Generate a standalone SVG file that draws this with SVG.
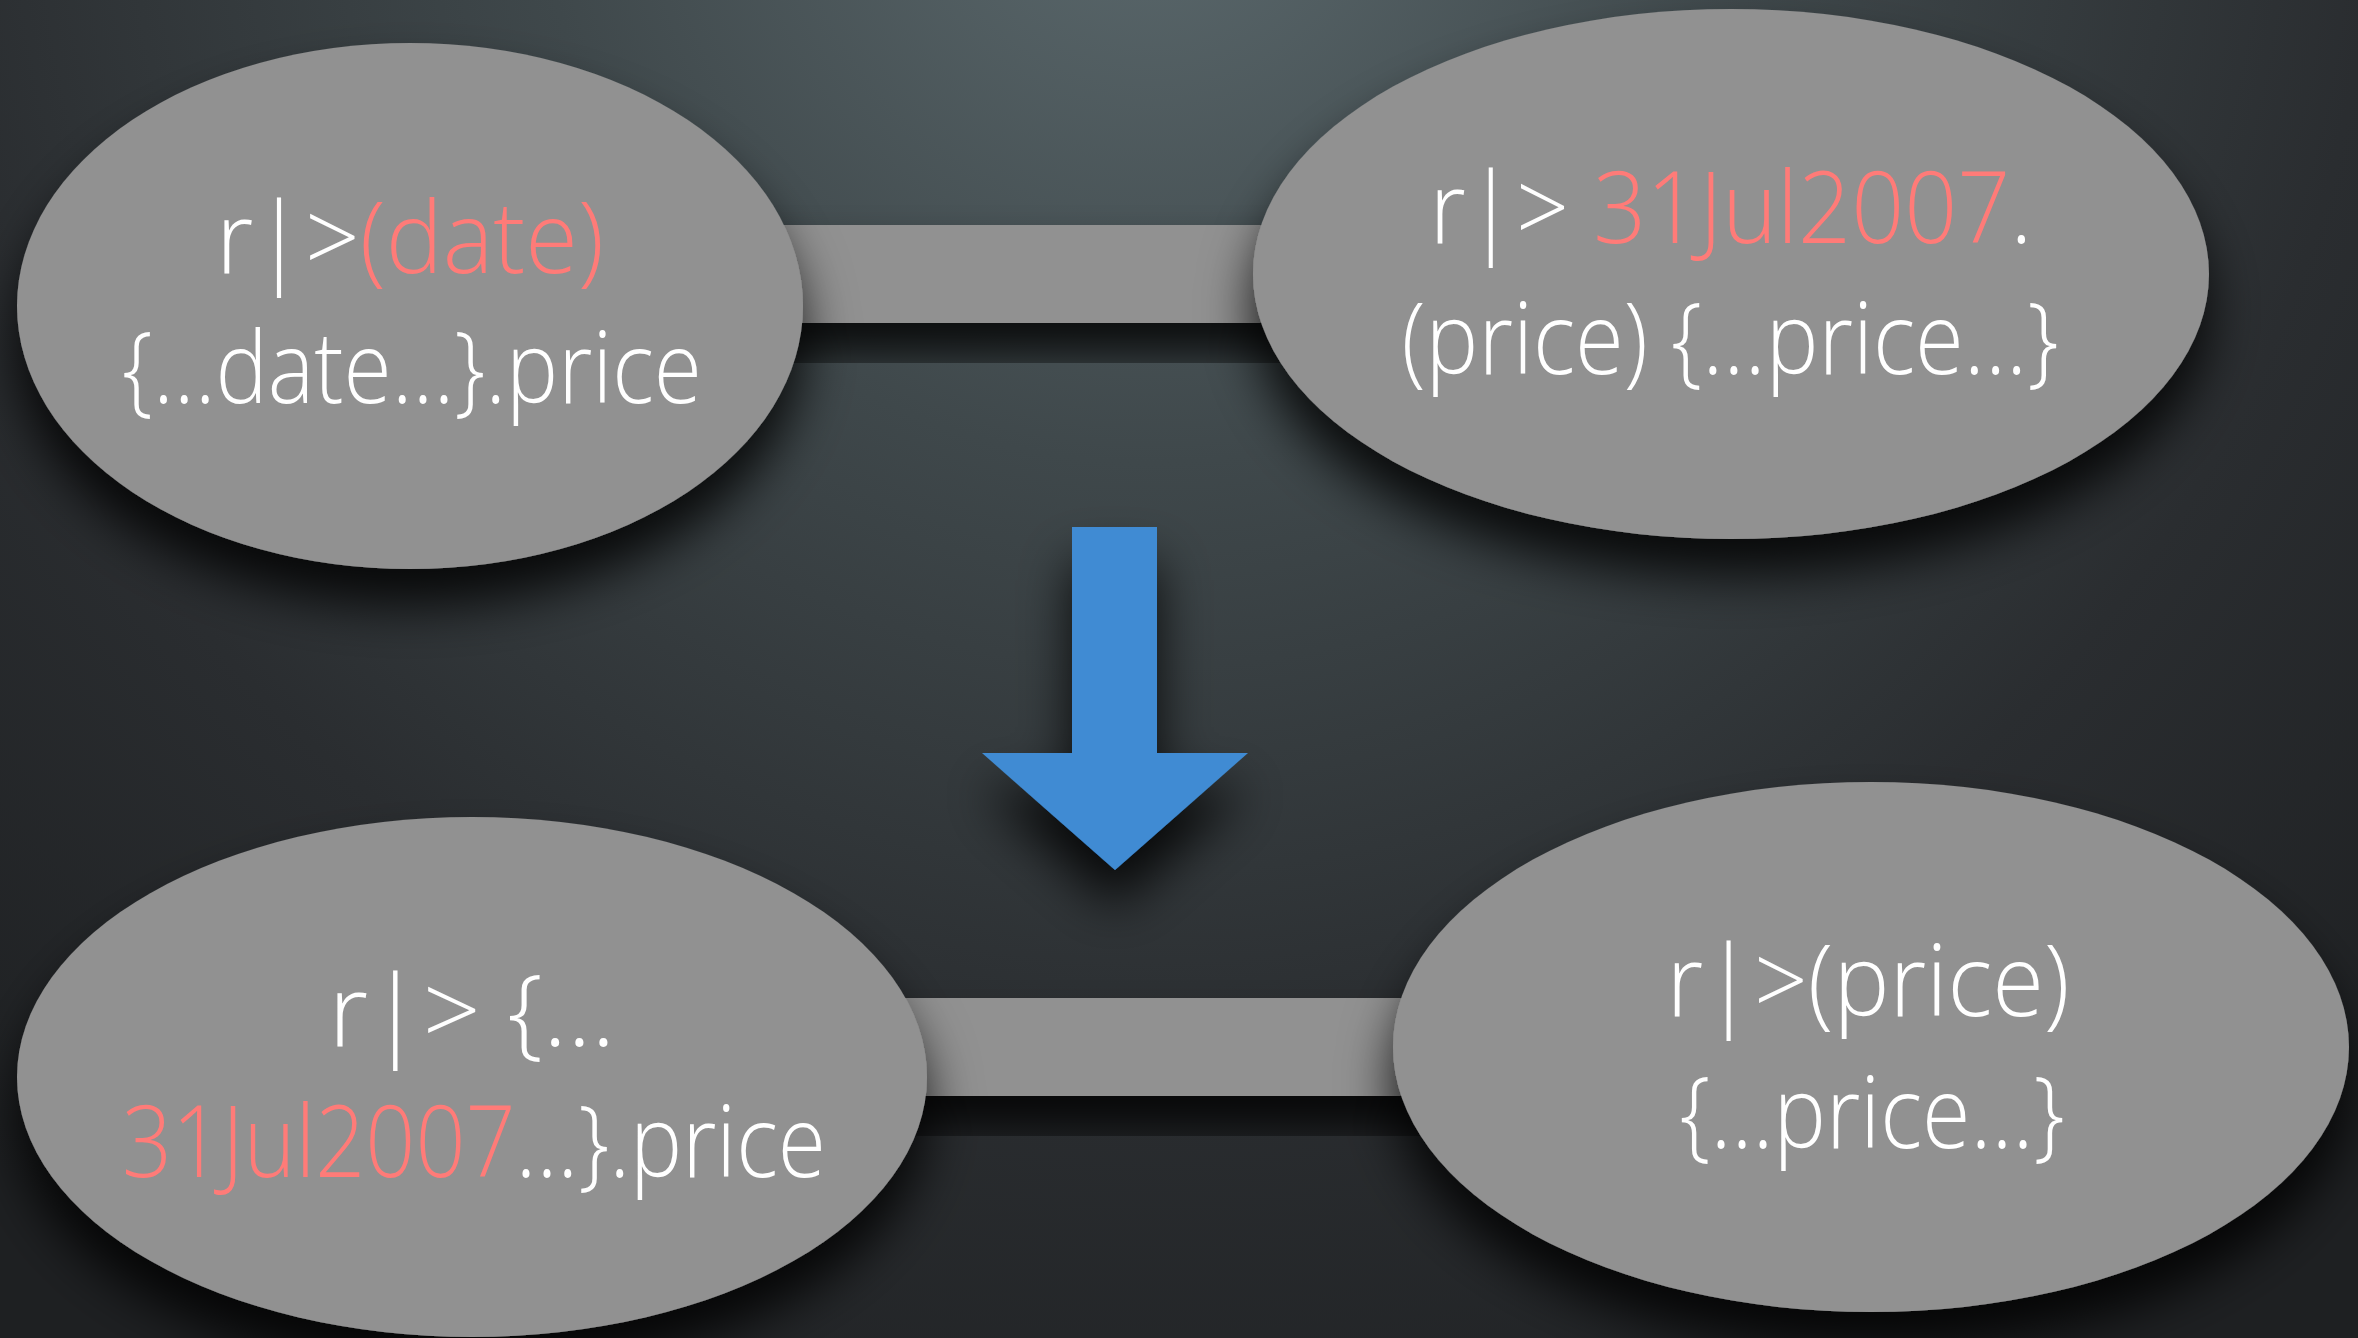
<svg xmlns="http://www.w3.org/2000/svg" width="2358" height="1338" viewBox="0 0 2358 1338">
<defs>
<radialGradient id="bg" cx="1150" cy="-150" r="1750" gradientUnits="userSpaceOnUse">
<stop offset="0" stop-color="#5c6a6e"/>
<stop offset="0.35" stop-color="#3f484b"/>
<stop offset="0.7" stop-color="#2a2d30"/>
<stop offset="1" stop-color="#1e2022"/>
</radialGradient>
<filter id="sh" x="-20%" y="-20%" width="140%" height="160%">
<feDropShadow dx="0" dy="36" stdDeviation="26" flood-color="#000" flood-opacity="0.85"/>
</filter>
<style>
.node{fill:#919191;filter:url(#sh)}
.bar{fill:#919191;filter:url(#sh)}
.t{font-family:"Open Sans","Liberation Sans",sans-serif;font-weight:300;font-size:100px;fill:#ffffff;text-anchor:middle}
.r{fill:#ff7b78}
</style>
</defs>
<rect width="2358" height="1338" fill="url(#bg)"/>
<g id="connectors">
<rect class="bar" x="600" y="225" width="900" height="98"/>
<rect class="bar" x="700" y="998" width="950" height="98"/>
<g id="transform-arrow" filter="url(#sh)">
<polygon points="1072,527 1157,527 1157,753 1248,753 1115,870 982,753 1072,753" fill="#3f8bd3"/>
</g>
</g>
<g id="node-tl">
<ellipse class="node" cx="410" cy="306" rx="393" ry="263"/>
<text class="t" x="410" y="273" textLength="388" lengthAdjust="spacingAndGlyphs">r|&gt;<tspan class="r">(date)</tspan></text>
<text class="t" x="412" y="403" textLength="580" lengthAdjust="spacingAndGlyphs">{...date...}.price</text>
</g>
<g id="node-tr">
<ellipse class="node" cx="1731" cy="274" rx="478" ry="265"/>
<text class="t" x="1731" y="243" textLength="603" lengthAdjust="spacingAndGlyphs">r|&gt; <tspan class="r">31Jul2007</tspan>.</text>
<text class="t" x="1730" y="374" textLength="657" lengthAdjust="spacingAndGlyphs">(price) {...price...}</text>
</g>
<g id="node-bl">
<ellipse class="node" cx="472" cy="1077" rx="455" ry="260"/>
<text class="t" x="472" y="1046" textLength="287" lengthAdjust="spacingAndGlyphs">r|&gt; {...</text>
<text class="t" x="474" y="1177" textLength="704" lengthAdjust="spacingAndGlyphs"><tspan class="r">31Jul2007</tspan>...}.price</text>
</g>
<g id="node-br">
<ellipse class="node" cx="1871" cy="1047" rx="478" ry="265"/>
<text class="t" x="1868" y="1016" textLength="403" lengthAdjust="spacingAndGlyphs">r|&gt;(price)</text>
<text class="t" x="1872" y="1148" textLength="385" lengthAdjust="spacingAndGlyphs">{...price...}</text>
</g>
</svg>
